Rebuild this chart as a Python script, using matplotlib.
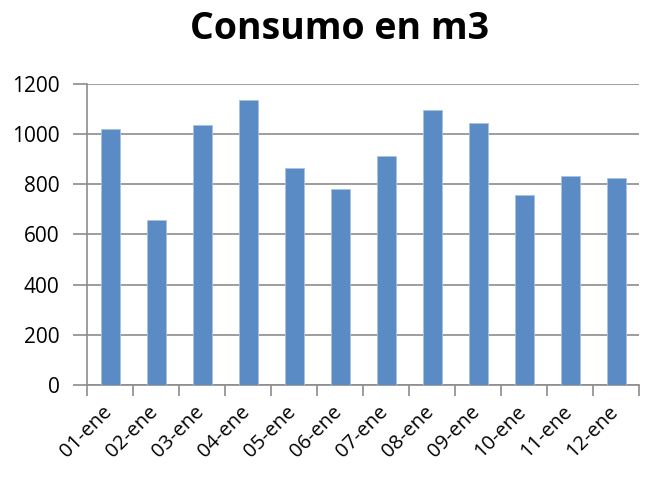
import matplotlib.pyplot as plt
import matplotlib.transforms as mtransforms
import numpy as np

# datos
dias = ['01-ene', '02-ene', '03-ene', '04-ene', '05-ene', '06-ene',
        '07-ene', '08-ene', '09-ene', '10-ene', '11-ene', '12-ene']
consumo = [1020, 657, 1035, 1136, 866, 781, 911, 1097, 1044, 758, 835, 827]

plt.rcParams['font.family'] = ['Open Sans', 'DejaVu Sans']

fig = plt.figure(figsize=(6.51, 4.8), dpi=100)
ax = fig.add_axes([0.134, 0.198, 0.848, 0.627])

x = np.arange(len(dias))
ax.bar(x, consumo, width=0.42, color='#5B8BC5', edgecolor='#A9C2E3', linewidth=0.6, zorder=3)

ax.set_xlim(-0.5, len(dias) - 0.5)
ax.set_ylim(0, 1200)
ax.set_yticks(range(0, 1201, 200))
ax.yaxis.grid(True, color='#8C8C8C', linewidth=1.2, zorder=0)

# marcas del eje x entre categorias
ax.set_xticks(x)
ax.set_xticklabels(dias, rotation=45, ha='right', rotation_mode='anchor', fontsize=14.5)
ax.set_xticks(np.arange(-0.5, len(dias), 1), minor=True)
ax.tick_params(axis='x', which='major', length=0, pad=12)
ax.tick_params(axis='x', which='minor', length=8, color='#8C8C8C', width=1.2)
ax.tick_params(axis='y', length=10, color='#8C8C8C', width=1.2, labelsize=15, pad=10)

# correr las etiquetas un poco a la izquierda
desp = mtransforms.ScaledTranslation(-8 / 100, 0, fig.dpi_scale_trans)
for lab in ax.get_xticklabels():
    lab.set_transform(lab.get_transform() + desp)

for s in ['top', 'right']:
    ax.spines[s].set_visible(False)
for s in ['left', 'bottom']:
    ax.spines[s].set_color('#8C8C8C')
    ax.spines[s].set_linewidth(1.2)

fig.text(0.522, 0.94, 'Consumo en m3', ha='center', va='center', fontsize=27, fontweight='bold')

fig.savefig('out.png', dpi=100)
